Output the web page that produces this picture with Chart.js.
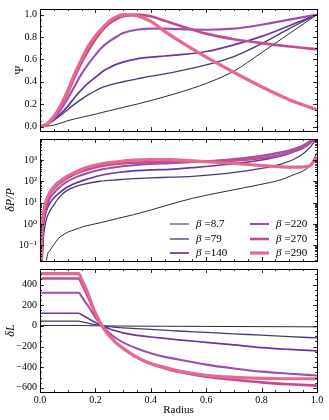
<!DOCTYPE html>
<html>
<head>
<meta charset="utf-8">
<script src="https://cdn.jsdelivr.net/npm/chart.js@4.4.0/dist/chart.umd.min.js"></script>
<style>
  html, body { margin: 0; padding: 0; background: #fff; }
  #wrap { position: relative; width: 329px; height: 420px; }
  canvas { position: absolute; left: 0; }
</style>
</head>
<body>
<div id="wrap">
  <canvas id="psiChart" width="329" height="140" style="top:0px"></canvas>
  <canvas id="dpChart" width="329" height="140" style="top:130px"></canvas>
  <canvas id="dlChart" width="329" height="160" style="top:260px"></canvas>
</div>
<script>
// Series labels (beta values) and tick labels
const BETA_LABELS = ['8.7', '79', '140', '220', '270', '290'];
const X_TICKS = [0, 0.2, 0.4, 0.6, 0.8, 1.0];
const PSI_TICKS = [0, 0.2, 0.4, 0.6, 0.8, 1.0];
const DP_TICKS = [0.1, 1, 10, 100, 1000];
const DP_TICK_LABELS = ['10\u207B\u00B9', '10\u2070', '10\u00B9', '10\u00B2', '10\u00B3'];
const DL_TICKS = [-600, -400, -200, 0, 200, 400];

// Top panel: Psi vs radius
const RADIUS_PSI = [0, 0.025, 0.05, 0.075, 0.1, 0.125, 0.15, 0.175, 0.2, 0.225, 0.25, 0.275, 0.3, 0.35, 0.4, 0.45, 0.5, 0.6, 0.7, 0.8, 0.9, 1.0];
const psiB8_7 = [0, 0.004, 0.013, 0.03, 0.052, 0.068, 0.082, 0.096, 0.11, 0.126, 0.141, 0.156, 0.171, 0.2, 0.232, 0.266, 0.302, 0.385, 0.495, 0.66, 0.83, 1.0];
const psiB79 = [0, 0.02, 0.055, 0.1, 0.15, 0.2, 0.245, 0.285, 0.32, 0.35, 0.37, 0.385, 0.4, 0.425, 0.45, 0.47, 0.495, 0.55, 0.625, 0.74, 0.875, 1.0];
const psiB140 = [0, 0.02, 0.06, 0.115, 0.18, 0.26, 0.33, 0.39, 0.44, 0.49, 0.525, 0.555, 0.575, 0.605, 0.62, 0.63, 0.64, 0.67, 0.73, 0.805, 0.9, 1.0];
const psiB220 = [0, 0.02, 0.07, 0.15, 0.25, 0.36, 0.47, 0.56, 0.64, 0.71, 0.76, 0.8, 0.835, 0.865, 0.875, 0.875, 0.87, 0.865, 0.875, 0.91, 0.955, 1.0];
const psiB270 = [0, 0.02, 0.08, 0.18, 0.3, 0.44, 0.57, 0.68, 0.78, 0.86, 0.92, 0.96, 0.985, 1.0, 0.985, 0.945, 0.905, 0.83, 0.78, 0.745, 0.715, 0.69];
const psiB290 = [0, 0.025, 0.09, 0.19, 0.32, 0.47, 0.6, 0.72, 0.81, 0.88, 0.94, 0.98, 1.0, 0.99, 0.94, 0.85, 0.77, 0.62, 0.485, 0.355, 0.24, 0.15];

// Middle panel: dP/P (log)
const RADIUS_DP = [0.003, 0.006, 0.012, 0.018, 0.024, 0.036, 0.05, 0.066, 0.096, 0.13, 0.156, 0.217, 0.28, 0.337, 0.4, 0.47, 0.55, 0.675, 0.794, 0.87, 0.913, 0.95, 0.975, 1.0];
const dpB8_7 = [0.001, 0.001, 0.001, 0.001, 0.021, 0.056, 0.105, 0.2, 0.38, 0.56, 0.74, 1.12, 1.8, 2.7, 4.5, 8.3, 16, 35, 71, 120, 200, 316, 560, 2240];
const dpB79 = [0.001, 0.003, 0.19, 0.8, 1.8, 4.1, 7.9, 15.8, 37, 58, 72, 102, 120, 135, 148, 158, 174, 240, 400, 660, 1050, 2000, 4000, 11200];
const dpB140 = [0.001, 0.01, 0.74, 2.2, 4.5, 9.5, 16.6, 26, 52, 85, 112, 190, 263, 316, 347, 372, 447, 630, 1000, 1580, 2400, 3800, 6300, 12600];
const dpB220 = [0.001, 0.03, 1.0, 3.2, 6.3, 16, 28, 48, 95, 160, 215, 355, 480, 575, 660, 725, 830, 1050, 1580, 2340, 3310, 5010, 7940, 15800];
const dpB270 = [0.003, 0.4, 2.2, 6.3, 11, 25, 45, 74, 140, 235, 320, 525, 675, 760, 810, 830, 850, 930, 1260, 1780, 2630, 4170, 7080, 15800];
const dpB290 = [0.003, 0.54, 2.5, 8.1, 14, 32, 56, 89, 170, 280, 400, 660, 850, 1000, 1070, 1070, 930, 740, 575, 490, 470, 480, 560, 1400];

// Bottom panel: dL
const RADIUS_DL = [0, 0.14, 0.15, 0.16, 0.17, 0.18, 0.19, 0.2, 0.21, 0.22, 0.235, 0.25, 0.275, 0.3, 0.35, 0.4, 0.45, 0.5, 0.6, 0.7, 0.8, 0.9, 1.0];
const dlB8_7 = [4, 4, 3.5, 3, 2.5, 2, 1.5, 1, 0.5, 0, -0.5, -1, -1.5, -2, -3, -3.5, -4, -4.5, -5.5, -6.5, -7.5, -8.5, -9.5];
const dlB79 = [45, 45, 40, 34, 28, 22, 16, 11, 6, 2, -3, -8, -14, -19, -27, -35, -42, -50, -63, -77, -90, -104, -117];
const dlB140 = [122, 122, 108, 93, 78, 62, 47, 32, 18, 5, -12, -28, -50, -68, -92, -108, -122, -135, -160, -185, -210, -228, -243];
const dlB220 = [320, 320, 285, 245, 205, 165, 122, 82, 45, 12, -30, -70, -120, -160, -220, -265, -300, -325, -375, -412, -443, -463, -480];
const dlB270 = [458, 458, 410, 355, 300, 240, 175, 115, 62, 15, -45, -95, -165, -220, -305, -368, -410, -445, -492, -522, -547, -565, -578];
const dlB290 = [505, 505, 450, 395, 335, 265, 190, 125, 70, 15, -45, -95, -165, -215, -305, -365, -400, -435, -478, -498, -508, -512, -512];

// Styling per beta
const LINE_COLORS = ['#141414', '#403e6f', '#6b34a0', '#9c4fb0', '#c24c90', '#e8698c'];
const LINE_WIDTHS = [0.9, 1.3, 1.7, 2.1, 2.6, 3.2];

const SERIF = '"Liberation Serif", "DejaVu Serif", serif';
const tickFont = { family: SERIF, size: 10 };
const titleFont = { family: SERIF, size: 12, style: 'italic' };

function makeDatasets(radius, series) {
  return series.map((vals, i) => ({
    label: BETA_LABELS[i],
    data: radius.map((r, k) => ({ x: r, y: vals[k] })),
    borderColor: LINE_COLORS[i],
    borderWidth: LINE_WIDTHS[i],
    pointRadius: 0,
    fill: false,
    cubicInterpolationMode: 'monotone',
    order: series.length - i,
  }));
}

function minorValues(scale, step) {
  const out = [];
  const start = Math.ceil(scale.min / step - 1e-9);
  for (let k = start; k * step <= scale.max + 1e-9; k++) out.push(k * step);
  return out;
}

function logMinorValues(scale) {
  const out = [];
  for (let e = -2; e <= 4; e++) {
    for (let m = 1; m < 10; m++) {
      const v = m * Math.pow(10, e);
      if (v >= scale.min && v <= scale.max) out.push(v);
    }
  }
  return out;
}

// Frame + inward ticks on all four sides
const frameTicks = {
  id: 'frameTicks',
  afterDatasetsDraw(chart, args, opts) {
    const { ctx, chartArea: a } = chart;
    const xs = chart.scales.x;
    const ys = chart.scales.y;
    ctx.save();
    ctx.strokeStyle = '#000';
    ctx.lineWidth = 0.8;
    ctx.beginPath();
    const xMark = (v, len) => {
      const p = Math.round(xs.getPixelForValue(v)) + 0.5;
      ctx.moveTo(p, a.bottom); ctx.lineTo(p, a.bottom - len);
      ctx.moveTo(p, a.top); ctx.lineTo(p, a.top + len);
    };
    const yMark = (v, len) => {
      const p = Math.round(ys.getPixelForValue(v)) + 0.5;
      ctx.moveTo(a.left, p); ctx.lineTo(a.left + len, p);
      ctx.moveTo(a.right, p); ctx.lineTo(a.right - len, p);
    };
    X_TICKS.forEach((v) => xMark(v, 4));
    minorValues(xs, 0.05).forEach((v) => xMark(v, 2));
    ys.ticks.forEach((t) => yMark(t.value, 4));
    const yMinor = opts.log ? logMinorValues(ys) : minorValues(ys, opts.minorStep);
    yMinor.forEach((v) => yMark(v, 2));
    ctx.stroke();
    ctx.lineWidth = 1;
    ctx.strokeRect(a.left + 0.5, a.top + 0.5, a.right - a.left, a.bottom - a.top);
    ctx.restore();
  },
};

// Two-column legend inside the middle panel
const betaLegend = {
  id: 'betaLegend',
  afterDatasetsDraw(chart) {
    const { ctx, chartArea: a } = chart;
    const cols = [a.left + 130, a.left + 210];
    const rows = [a.top + 85, a.top + 100, a.top + 114];
    ctx.save();
    chart.data.datasets.forEach((ds, i) => {
      const x = cols[Math.floor(i / 3)];
      const y = rows[i % 3];
      ctx.strokeStyle = ds.borderColor;
      ctx.lineWidth = ds.borderWidth;
      ctx.beginPath();
      ctx.moveTo(x, y); ctx.lineTo(x + 19, y);
      ctx.stroke();
      ctx.fillStyle = '#000';
      ctx.textBaseline = 'middle';
      ctx.font = 'italic 11px ' + SERIF;
      ctx.fillText('\u03B2', x + 26, y);
      const w = ctx.measureText('\u03B2').width;
      ctx.font = '11px ' + SERIF;
      ctx.fillText('=' + ds.label, x + 26 + w + 3, y);
    });
    ctx.restore();
  },
};

function yAxis(extra) {
  return Object.assign({
    afterFit: (s) => { s.width = 40; },
    grid: { display: false, drawTicks: false },
    border: { display: false },
  }, extra);
}

const baseOptions = (padding, yScale, xScale, plugOpts) => ({
  responsive: false,
  animation: false,
  events: [],
  layout: { padding },
  scales: { x: xScale, y: yScale },
  plugins: { legend: { display: false }, tooltip: { enabled: false }, frameTicks: plugOpts },
});

const hiddenX = { type: 'linear', min: 0, max: 1, display: false };

new Chart(document.getElementById('psiChart'), {
  type: 'line',
  data: { datasets: makeDatasets(RADIUS_PSI, [psiB8_7, psiB79, psiB140, psiB220, psiB270, psiB290]) },
  options: baseOptions(
    { top: 3, right: 12, bottom: 7, left: 0 },
    yAxis({
      type: 'linear', min: -0.04, max: 1.05,
      afterBuildTicks: (s) => { s.ticks = PSI_TICKS.map((v) => ({ value: v })); },
      ticks: { padding: 3, color: '#000', font: tickFont, callback: (v) => Number(v).toFixed(1) },
      title: { display: true, text: '\u03A8', color: '#000', font: { family: SERIF, size: 12 }, padding: { top: 13, bottom: 0 } },
    }),
    hiddenX,
    { minorStep: 0.05 }
  ),
  plugins: [frameTicks],
});

new Chart(document.getElementById('dpChart'), {
  type: 'line',
  data: { datasets: makeDatasets(RADIUS_DP, [dpB8_7, dpB79, dpB140, dpB220, dpB270, dpB290]) },
  options: baseOptions(
    { top: 3, right: 12, bottom: 7, left: 0 },
    yAxis({
      type: 'logarithmic', min: 0.0178, max: 10000,
      afterBuildTicks: (s) => { s.ticks = DP_TICKS.map((v) => ({ value: v })); },
      ticks: { padding: 3, color: '#000', font: tickFont, callback: (v) => DP_TICK_LABELS[DP_TICKS.indexOf(v)] },
      title: { display: true, text: '\u03B4P/P', color: '#000', font: titleFont, padding: { top: 4, bottom: 0 } },
    }),
    hiddenX,
    { log: true }
  ),
  plugins: [frameTicks, betaLegend],
});

new Chart(document.getElementById('dlChart'), {
  type: 'line',
  data: { datasets: makeDatasets(RADIUS_DL, [dlB8_7, dlB79, dlB140, dlB220, dlB270, dlB290]) },
  options: baseOptions(
    { top: 3, right: 12, bottom: 2, left: 0 },
    yAxis({
      type: 'linear', min: -640, max: 550,
      afterBuildTicks: (s) => { s.ticks = DL_TICKS.map((v) => ({ value: v })); },
      ticks: { padding: 3, color: '#000', font: tickFont, callback: (v) => (v < 0 ? '\u2212' + Math.abs(v) : String(v)) },
      title: { display: true, text: '\u03B4L', color: '#000', font: titleFont, padding: { top: 4, bottom: 0 } },
    }),
    {
      type: 'linear', min: 0, max: 1,
      afterFit: (s) => { s.height = 26; },
      afterBuildTicks: (s) => { s.ticks = X_TICKS.map((v) => ({ value: v })); },
      grid: { display: false, drawTicks: false },
      border: { display: false },
      ticks: { padding: 2, maxRotation: 0, autoSkip: false, color: '#000', font: tickFont, callback: (v) => Number(v).toFixed(1) },
      title: { display: true, text: 'Radius', color: '#000', font: { family: SERIF, size: 11 }, padding: { top: 0, bottom: 1 } },
    },
    { minorStep: 50 }
  ),
  plugins: [frameTicks],
});
</script>
</body>
</html>
